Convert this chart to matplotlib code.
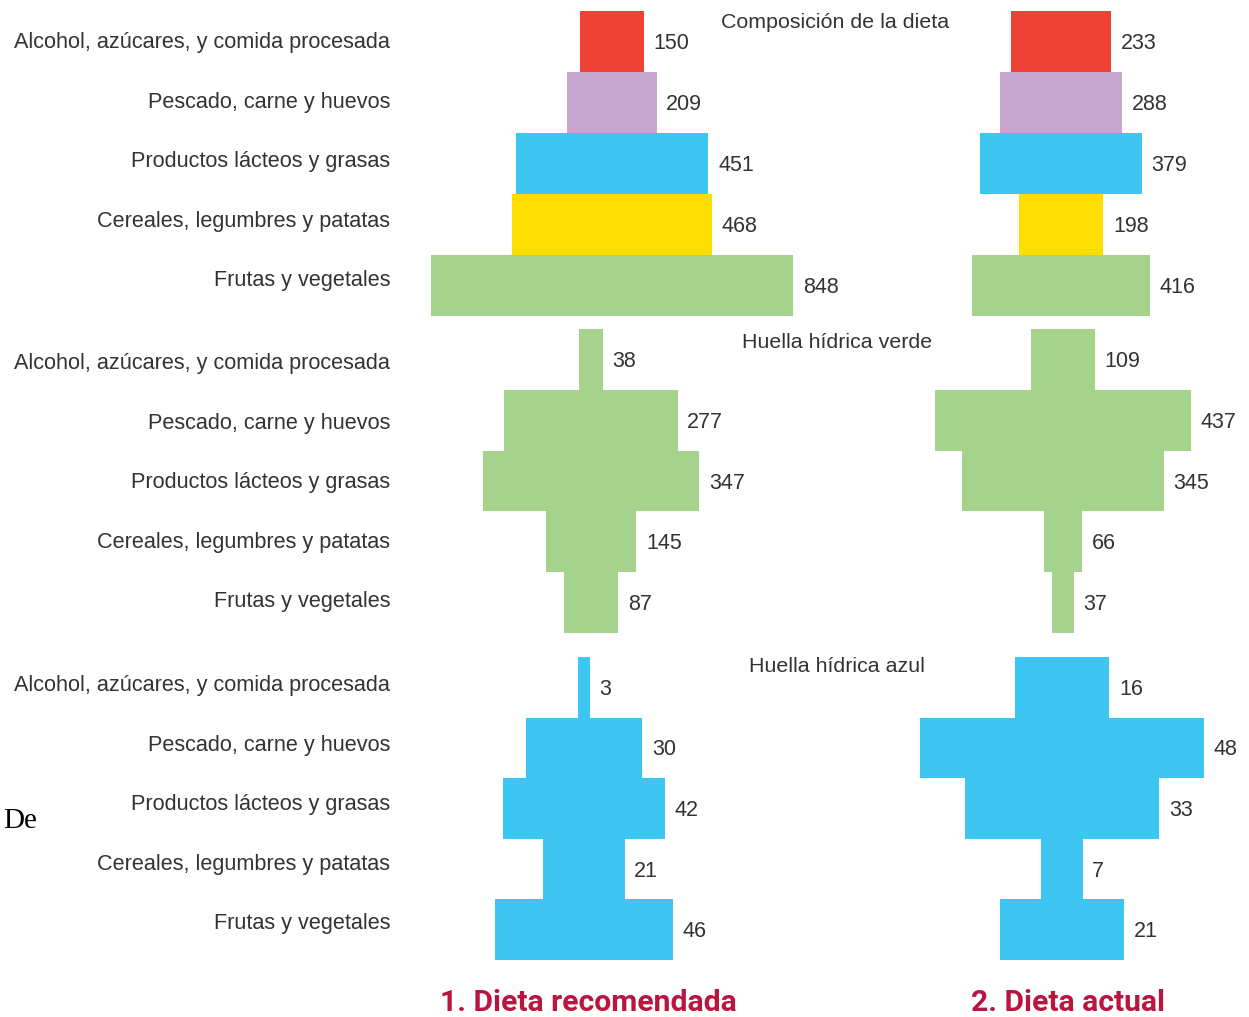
import matplotlib
matplotlib.use("Agg")
import matplotlib.pyplot as plt

plt.rcParams['font.family'] = ['Liberation Sans', 'DejaVu Sans']

W, H = 1249, 1017

categories = ['Alcohol, azúcares, y comida procesada',
              'Pescado, carne y huevos',
              'Productos lácteos y grasas',
              'Cereales, legumbres y patatas',
              'Frutas y vegetales']

panel_titles = ['Composición de la dieta', 'Huella hídrica verde', 'Huella hídrica azul']
column_titles = ['1. Dieta recomendada', '2. Dieta actual']

# composition of the diet
comp_recomendada = [150, 209, 451, 468, 848]
comp_actual = [233, 288, 379, 198, 416]
# green water footprint
verde_recomendada = [38, 277, 347, 145, 87]
verde_actual = [109, 437, 345, 66, 37]
# blue water footprint
azul_recomendada = [3, 30, 42, 21, 46]
azul_actual = [16, 48, 33, 7, 21]

comp_colors = ['#EF4136', '#C8A6CF', '#3EC6F2', '#FEDD00', '#A5D38C']
green = '#A5D38C'
blue = '#3EC6F2'
text_color = '#333333'
title_red = '#B8163F'

panels = [
    (comp_recomendada, comp_actual, comp_colors),
    (verde_recomendada, verde_actual, [green] * 5),
    (azul_recomendada, azul_actual, [blue] * 5),
]
# pixel layout: vertical extent of each panel, column centres and px per unit
rows_px = [(11, 316), (329, 633), (657, 960)]
centres = [[612, 1061], [591, 1063], [584, 1062]]
scales = [[0.427, 0.427], [0.625, 0.585], [3.87, 5.9]]
title_pos = [(835, 23), (837, 342), (837, 667)]
label_start = [41, 362, 684]  # y of first category label in each panel
label_step = 59.6

fig = plt.figure(figsize=(W / 100, H / 100), dpi=100)

for r, (rec, act, colors) in enumerate(panels):
    top, bot = rows_px[r]
    for c, vals in enumerate([rec, act]):
        cx = centres[r][c]
        s = scales[r][c]
        ax = fig.add_axes([0, 1 - bot / H, 1, (bot - top) / H])
        ax.set_xlim(-cx / s, (W - cx) / s)
        ax.set_ylim(4.5, -0.5)
        ax.axis('off')
        ypos = list(range(len(vals)))
        lefts = [-v / 2 for v in vals]
        ax.barh(ypos, vals, left=lefts, height=1.0, color=colors, linewidth=0)
        for y, v in zip(ypos, vals):
            ax.annotate(str(v), (v / 2, y), xytext=(7, -1.5), textcoords='offset points',
                        ha='left', va='center', fontsize=15.5, color=text_color)
    for i, cat in enumerate(categories):
        ypx = label_start[r] + 1.5 + i * label_step
        fig.text(390 / W, 1 - ypx / H, cat, ha='right', va='center',
                 fontsize=15.6, color=text_color)
    tx, ty = title_pos[r]
    fig.text(tx / W, 1 - ty / H, panel_titles[r], ha='center', va='center',
             fontsize=15.4, color=text_color)

fig.text(588 / W, 1 - 1003 / H, column_titles[0], ha='center', va='center',
         fontsize=21.7, fontweight='bold', color=title_red, family='Roboto')
fig.text(1068 / W, 1 - 1003 / H, column_titles[1], ha='center', va='center',
         fontsize=21.7, fontweight='bold', color=title_red, family='Roboto')

fig.text(3 / W, 1 - 821 / H, 'De', ha='left', va='center', fontsize=21,
         color='black', family='Liberation Serif')

fig.savefig('out.png', dpi=100, facecolor='white')
